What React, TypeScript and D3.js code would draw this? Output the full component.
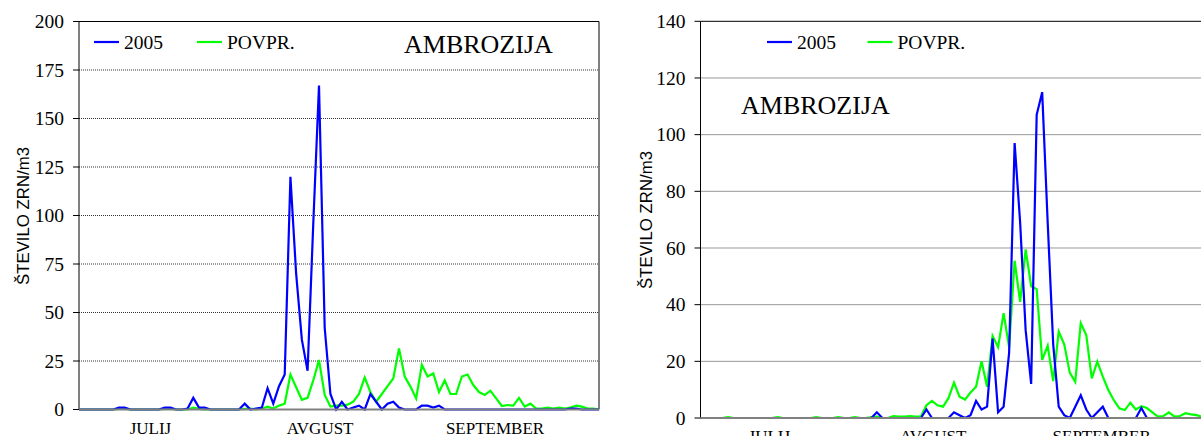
import React from "react";
import * as d3 from "d3";

// ---- data (daily, 1 July .. 30 September = 92 days) ----
const LEFT_2005 = [
  0, 0, 0, 0, 0, 0, 0, 1, 1, 0, 0, 0, 0, 0, 0, 1, 1, 0, 0, 0.5,
  6, 1, 1, 0, 0, 0, 0, 0, 0, 3, 0, 0.5, 1, 11, 3, 12, 18, 120, 70, 36,
  20, 96, 167, 42, 8, 0, 4, 0, 1, 2, 0, 8, 4, 0, 3, 4, 1, 0, 0, 0,
  2, 2, 1, 2, 0, 0, 0, 0, 0, 0, 0, 0, 0, 0, 0, 0, 0, 0, 0, 0,
  0, 0, 0, 0, 0, 0, 0.5, 0.5, 0, 0, 0, 0,
];
const LEFT_AVG = [
  0, 0, 0, 0, 0, 0, 0, 0.3, 0.3, 0, 0, 0, 0, 0, 0, 0.3, 0.3, 0, 0, 0,
  1, 0.3, 0, 0, 0, 0, 0, 0, 0, 0.3, 0.5, 0, 0.5, 1.5, 0.5, 2, 3, 18, 11.5, 5,
  6, 15, 25.5, 7.5, 1.5, 2, 2, 2.5, 4, 8, 16.5, 9, 4, 8, 12, 16, 31.5, 17, 11.8, 5.7,
  23, 17, 18.6, 9, 15, 8, 8, 17, 18, 12.6, 9, 7.5, 9.7, 5.7, 1.8, 2.3, 2, 6, 1.5, 3,
  0.5, 0.5, 1, 0.5, 1, 0.5, 1, 2, 1.5, 0.5, 0.5, 0,
];
const RIGHT_2005 = [
  0, 0, 0, 0, 0, 0, 0, 0, 0, 0, 0, 0, 0, 0, 0, 0, 0, 0, 0, 0,
  0, 0, 0, 0, 0, 0, 0, 0, 0, 0, 0, 0, 2, 0, 0, 0, 0, 0, 0, 0,
  0, 3, 0, 0, 0, 0, 2, 1, 0, 1, 6, 3, 4, 28, 2, 4, 23, 97, 69, 31,
  12, 107, 115, 69, 26, 4, 1, 0, 4, 8, 3, 0, 2, 4, 0, 0, 0, 0, 0, 0,
  3.5, 0, 0, 0, 0, 0, 0, 0, 0, 0, 0, 0,
];
const RIGHT_AVG = [
  0, 0, 0, 0, 0, 0.3, 0, 0, 0, 0, 0, 0, 0, 0, 0.3, 0, 0, 0, 0, 0,
  0, 0.3, 0, 0, 0, 0.3, 0, 0, 0.3, 0, 0, 0.3, 0.5, 0, 0, 0.7, 0.5, 0.5, 0.7, 0.5,
  0.5, 4.5, 6, 4.5, 4, 7, 12.5, 7.5, 6.5, 9, 11, 20, 11, 29, 25, 37, 25, 55.5, 41, 59.5,
  46.5, 45.5, 20.5, 25.5, 13, 30.5, 26, 16, 12.8, 33.5, 29.3, 14, 19.9, 14.6, 9.9, 6.3, 3.4, 2.8, 5.4, 3,
  4.2, 3.5, 2, 0.5, 0.7, 2, 0.5, 0.7, 1.7, 1.3, 1, 0.5,
];

const MONTHS = ["JULIJ", "AVGUST", "SEPTEMBER"];
const MONTH_POS = [12.5, 42.2, 72.8];
const LEFT_TICKS = [0, 25, 50, 75, 100, 125, 150, 175, 200];
const RIGHT_TICKS = [0, 20, 40, 60, 80, 100, 120, 140];
const SERIES_NAMES = ["2005", "POVPR."];
const TITLE = "AMBROZIJA";
const Y_TITLE = "ŠTEVILO ZRN/m3";

const BLUE = "#0000ff";
const GREEN = "#00ff00";
const SERIF = "'Liberation Serif', 'Times New Roman', serif";
const SANS = "'Liberation Sans', Arial, sans-serif";

type PanelProps = {
  x0: number; x1: number; yTop: number; yBottom: number; yMax: number;
  ticks: number[]; s2005: number[]; sAvg: number[];
  legendX: number; legendX2: number; legendY: number;
  titleX: number; titleY: number;
  yTitleX: number; yTitleY: number; monthY: number;
};

function Panel(p: PanelProps) {
  const x = d3.scaleLinear().domain([0, 91]).range([p.x0, p.x1]);
  const y = d3.scaleLinear().domain([0, p.yMax]).range([p.yBottom, p.yTop]);
  const line = d3.line<number>().x((_, i) => x(i)).y((v) => y(v));
  const series = [
    { data: p.sAvg, color: GREEN },
    { data: p.s2005, color: BLUE },
  ];
  return (
    <g>
      {p.ticks.filter((t) => t > 0 && t < p.yMax).map((t) => (
        <line key={"g" + t} x1={p.x0} x2={p.x1} y1={y(t)} y2={y(t)}
          stroke="#333" strokeWidth={1} strokeDasharray="1 1" />
      ))}
      {/* frame */}
      <line x1={p.x0} x2={p.x1} y1={p.yTop} y2={p.yTop} stroke="#000" strokeWidth={1} />
      <line x1={p.x1} x2={p.x1} y1={p.yTop} y2={p.yBottom} stroke="#000" strokeWidth={1} />
      <line x1={p.x0} x2={p.x0} y1={p.yTop} y2={p.yBottom} stroke="#000" strokeWidth={1} />
      {p.ticks.map((t) => (
        <g key={"t" + t}>
          <line x1={p.x0 - 6} x2={p.x0} y1={y(t)} y2={y(t)} stroke="#000" strokeWidth={1} />
          <text x={p.x0 - 15} y={y(t)} dy="0.34em" textAnchor="end"
            fontFamily={SERIF} fontSize={19.5} fill="#000">{t}</text>
        </g>
      ))}
      {series.map((s, k) => (
        <g key={"s" + k}>
          <path d={line(s.data) || ""} fill="none" stroke={s.color} strokeWidth={2.2}
            strokeLinejoin="miter" />
        </g>
      ))}
      {/* x axis */}
      <line x1={p.x0} x2={p.x1} y1={p.yBottom} y2={p.yBottom} stroke="#808080" strokeWidth={2} />
      {MONTHS.map((m, i) => (
        <text key={m} x={x(MONTH_POS[i])} y={p.monthY} textAnchor="middle"
          fontFamily={SERIF} fontSize={17} fill="#000">{m}</text>
      ))}
      {/* legend */}
      <line x1={p.legendX} x2={p.legendX + 25} y1={p.legendY} y2={p.legendY} stroke={BLUE} strokeWidth={2.2} />
      <text x={p.legendX + 30} y={p.legendY + 7} fontFamily={SERIF} fontSize={19.5} fill="#000">{SERIES_NAMES[0]}</text>
      <line x1={p.legendX2} x2={p.legendX2 + 25} y1={p.legendY} y2={p.legendY} stroke={GREEN} strokeWidth={2.2} />
      <text x={p.legendX2 + 30} y={p.legendY + 7} fontFamily={SERIF} fontSize={19.5} fill="#000">{SERIES_NAMES[1]}</text>
      <text x={p.titleX} y={p.titleY} fontFamily={SERIF} fontSize={26} fill="#000">{TITLE}</text>
      <text transform={`translate(${p.yTitleX},${p.yTitleY}) rotate(-90)`} textAnchor="middle"
        fontFamily={SANS} fontSize={16.8} fill="#000">{Y_TITLE}</text>
    </g>
  );
}

export default function App() {
  return (
    <svg width={1201} height={436} style={{ position: "absolute", left: 0, top: 0, background: "#fff" }}>
      <rect x={0} y={0} width={1201} height={436} fill="#fff" />
      <Panel x0={79} x1={599} yTop={21.5} yBottom={409.5} yMax={200} ticks={LEFT_TICKS}
        s2005={LEFT_2005} sAvg={LEFT_AVG}
        legendX={94} legendX2={197} legendY={42}
        titleX={404} titleY={53}
        yTitleX={28.5} yTitleY={216} monthY={433.5} />
      <Panel x0={700.5} x1={1202} yTop={21.3} yBottom={418} yMax={140} ticks={RIGHT_TICKS}
        s2005={RIGHT_2005} sAvg={RIGHT_AVG}
        legendX={767} legendX2={867.5} legendY={42}
        titleX={741} titleY={114}
        yTitleX={652} yTitleY={220} monthY={442} />
    </svg>
  );
}
